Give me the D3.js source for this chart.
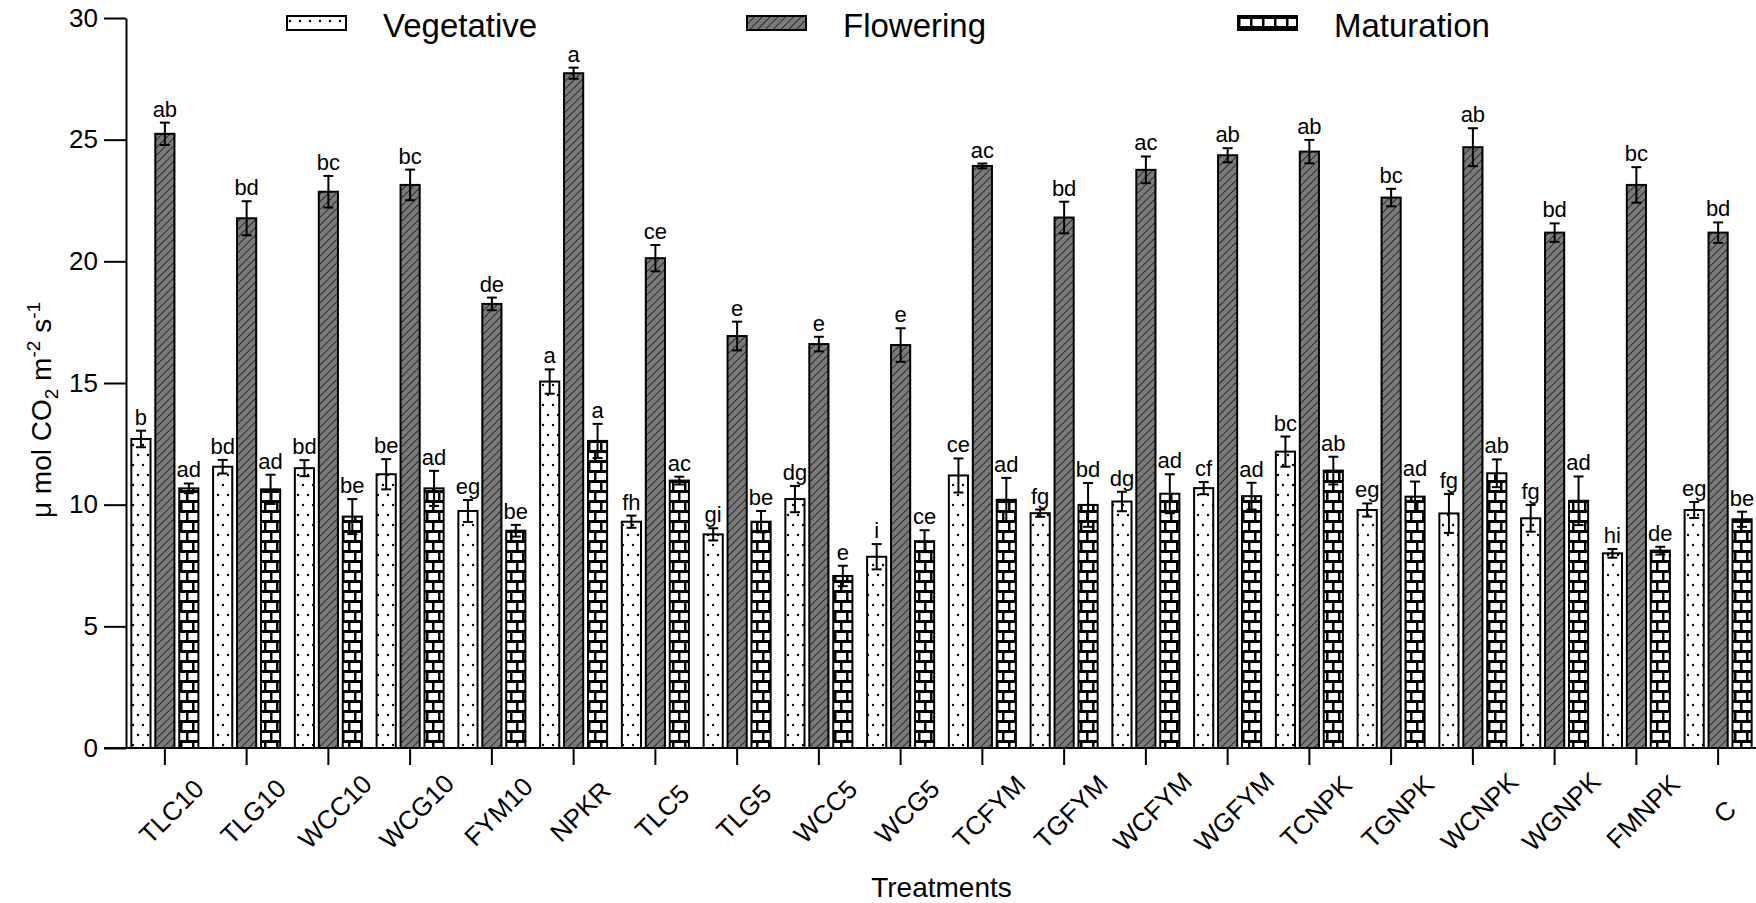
<!DOCTYPE html>
<html>
<head>
<meta charset="utf-8">
<script src="https://cdn.jsdelivr.net/npm/d3@7"></script>
<style>
  body { margin: 0; background: #fff; }
  text { font-family: "Liberation Sans", Arial, sans-serif; fill: #000; }
</style>
</head>
<body>
<svg width="1756" height="903"></svg>
<script>
const treatments = ['TLC10', 'TLG10', 'WCC10', 'WCG10', 'FYM10', 'NPKR', 'TLC5', 'TLG5', 'WCC5', 'WCG5',
  'TCFYM', 'TGFYM', 'WCFYM', 'WGFYM', 'TCNPK', 'TGNPK', 'WCNPK', 'WGNPK', 'FMNPK', 'C']
const stages = ['Vegetative', 'Flowering', 'Maturation']

const vegetative = [12.7, 11.56, 11.5, 11.25, 9.74, 15.06, 9.3, 8.78, 10.23, 7.86,
  11.2, 9.65, 10.13, 10.68, 12.18, 9.78, 9.64, 9.44, 8.0, 9.78]
const flowering = [25.24, 21.77, 22.86, 23.14, 18.25, 27.73, 20.13, 16.93, 16.6, 16.56,
  23.92, 21.8, 23.76, 24.36, 24.51, 22.62, 24.69, 21.18, 23.14, 21.18]
const maturation = [10.67, 10.63, 9.51, 10.67, 8.93, 12.62, 10.99, 9.3, 7.07, 8.5,
  10.2, 9.99, 10.45, 10.35, 11.4, 10.33, 11.29, 10.16, 8.11, 9.4]

const vegetativeErr = [0.34, 0.28, 0.33, 0.62, 0.45, 0.5, 0.25, 0.25, 0.54, 0.52,
  0.7, 0.15, 0.4, 0.25, 0.62, 0.27, 0.8, 0.55, 0.18, 0.33]
const floweringErr = [0.46, 0.7, 0.65, 0.63, 0.26, 0.23, 0.54, 0.59, 0.3, 0.69,
  0.1, 0.65, 0.55, 0.29, 0.48, 0.36, 0.78, 0.38, 0.73, 0.42]
const maturationErr = [0.2, 0.6, 0.72, 0.72, 0.24, 0.7, 0.16, 0.44, 0.42, 0.45,
  0.9, 0.9, 0.8, 0.55, 0.57, 0.62, 0.57, 1.0, 0.16, 0.31]

const vegetativeLetters = ['b', 'bd', 'bd', 'be', 'eg', 'a', 'fh', 'gi', 'dg', 'i',
  'ce', 'fg', 'dg', 'cf', 'bc', 'eg', 'fg', 'fg', 'hi', 'eg']
const floweringLetters = ['ab', 'bd', 'bc', 'bc', 'de', 'a', 'ce', 'e', 'e', 'e',
  'ac', 'bd', 'ac', 'ab', 'ab', 'bc', 'ab', 'bd', 'bc', 'bd']
const maturationLetters = ['ad', 'ad', 'be', 'ad', 'be', 'a', 'ac', 'be', 'e', 'ce',
  'ad', 'bd', 'ad', 'ad', 'ab', 'ad', 'ab', 'ad', 'de', 'be']

const yTicks = [0, 5, 10, 15, 20, 25, 30]

const values = [vegetative, flowering, maturation]
const errs = [vegetativeErr, floweringErr, maturationErr]
const letters = [vegetativeLetters, floweringLetters, maturationLetters]
const fills = ['url(#dots)', 'url(#hatch)', 'url(#brick)']

const rows = []
treatments.forEach((t, i) => {
  stages.forEach((s, j) => {
    rows.push({ treatment: t, stage: s, value: values[j][i], err: errs[j][i], letter: letters[j][i], fill: fills[j] })
  })
})

const svg = d3.select('svg')

// patterns
const defs = svg.append('defs')

const dots = defs.append('pattern')
  .attr('id', 'dots')
  .attr('patternUnits', 'userSpaceOnUse')
  .attr('width', 10)
  .attr('height', 20)
dots.append('rect').attr('width', 10).attr('height', 20).attr('fill', '#fff')
dots.append('circle').attr('cx', 3).attr('cy', 5).attr('r', 1.2).attr('fill', '#000')
dots.append('circle').attr('cx', 8).attr('cy', 15).attr('r', 1.2).attr('fill', '#000')

const hatch = defs.append('pattern')
  .attr('id', 'hatch')
  .attr('patternUnits', 'userSpaceOnUse')
  .attr('width', 5.5)
  .attr('height', 10)
  .attr('patternTransform', 'rotate(45)')
hatch.append('rect').attr('width', 5.5).attr('height', 10).attr('fill', '#7a7a7a')
hatch.append('line').attr('x1', 0).attr('x2', 0).attr('y1', 0).attr('y2', 10)
  .attr('stroke', '#111').attr('stroke-width', 1.5)

const brick = defs.append('pattern')
  .attr('id', 'brick')
  .attr('patternUnits', 'userSpaceOnUse')
  .attr('width', 12)
  .attr('height', 20)
brick.append('rect').attr('width', 12).attr('height', 20).attr('fill', '#fff')
brick.append('rect').attr('y', 0).attr('width', 12).attr('height', 3).attr('fill', '#000')
brick.append('rect').attr('y', 10).attr('width', 12).attr('height', 3).attr('fill', '#000')
brick.append('rect').attr('x', 0).attr('y', 0).attr('width', 2.5).attr('height', 10).attr('fill', '#000')
brick.append('rect').attr('x', 6).attr('y', 10).attr('width', 2.5).attr('height', 10).attr('fill', '#000')

// scales
const x0 = d3.scaleBand()
  .domain(treatments)
  .range([124, 1759])
  .paddingInner(0.18)
  .paddingOuter(0.09)

const x1 = d3.scaleBand()
  .domain(stages)
  .range([0, x0.bandwidth()])
  .paddingInner(0.2)

const y = d3.scaleLinear()
  .domain([0, 30])
  .range([748, 18])

// bars
const bars = svg.append('g')
bars.selectAll('rect')
  .data(rows)
  .join('rect')
  .attr('x', d => x0(d.treatment) + x1(d.stage))
  .attr('y', d => y(d.value))
  .attr('width', x1.bandwidth())
  .attr('height', d => y(0) - y(d.value))
  .attr('fill', d => d.fill)
  .attr('stroke', '#000')
  .attr('stroke-width', 2)

// error bars
const capW = 5
const eb = svg.append('g')
  .attr('stroke', '#000')
  .attr('stroke-width', 2)
const cx = d => x0(d.treatment) + x1(d.stage) + x1.bandwidth() / 2
eb.selectAll('.stem')
  .data(rows)
  .join('line')
  .attr('x1', cx).attr('x2', cx)
  .attr('y1', d => y(d.value - d.err))
  .attr('y2', d => y(d.value + d.err))
eb.selectAll('.capTop')
  .data(rows)
  .join('line')
  .attr('x1', d => cx(d) - capW).attr('x2', d => cx(d) + capW)
  .attr('y1', d => y(d.value + d.err)).attr('y2', d => y(d.value + d.err))
eb.selectAll('.capBottom')
  .data(rows)
  .join('line')
  .attr('x1', d => cx(d) - capW).attr('x2', d => cx(d) + capW)
  .attr('y1', d => y(d.value - d.err)).attr('y2', d => y(d.value - d.err))

// letters
svg.append('g')
  .selectAll('text')
  .data(rows)
  .join('text')
  .attr('x', cx)
  .attr('y', d => y(d.value + d.err) - 6)
  .attr('text-anchor', 'middle')
  .attr('font-size', 22)
  .text(d => d.letter)

// y axis
const yAxis = svg.append('g')
  .attr('transform', 'translate(126,0)')
  .call(d3.axisLeft(y).tickValues(yTicks).tickSize(22).tickPadding(6).tickSizeOuter(0))
yAxis.selectAll('text').attr('font-size', 26).attr('font-family', '"Liberation Sans", Arial, sans-serif')
yAxis.selectAll('line, path').attr('stroke', '#000').attr('stroke-width', 2)

// x axis
const xAxis = svg.append('g')
  .attr('transform', 'translate(0,748)')
xAxis.append('line')
  .attr('x1', 104).attr('x2', 1756)
  .attr('stroke', '#000').attr('stroke-width', 2)
xAxis.selectAll('.tick')
  .data(treatments)
  .join('line')
  .attr('x1', d => x0(d) + x0.bandwidth() / 2)
  .attr('x2', d => x0(d) + x0.bandwidth() / 2)
  .attr('y1', 0).attr('y2', 17)
  .attr('stroke', '#000').attr('stroke-width', 2)
xAxis.selectAll('text')
  .data(treatments)
  .join('text')
  .attr('transform', d => `translate(${x0(d) + x0.bandwidth() / 2 + 13}, 70) rotate(-45)`)
  .attr('text-anchor', 'middle')
  .attr('font-size', 26)
  .text(d => d)

// axis titles
svg.append('text')
  .attr('x', (124 + 1759) / 2)
  .attr('y', 897)
  .attr('text-anchor', 'middle')
  .attr('font-size', 28)
  .text('Treatments')

const yTitle = svg.append('text')
  .attr('transform', 'translate(51, 410) rotate(-90)')
  .attr('text-anchor', 'middle')
  .attr('font-size', 28)
yTitle.append('tspan').text('\u03bc mol CO')
yTitle.append('tspan').attr('font-size', 19).attr('dy', 7).text('2')
yTitle.append('tspan').attr('dy', -7).text(' m')
yTitle.append('tspan').attr('font-size', 19).attr('dy', -11).text('-2')
yTitle.append('tspan').attr('dy', 11).text(' s')
yTitle.append('tspan').attr('font-size', 19).attr('dy', -11).text('-1')

// legend
const legendX = [287, 747, 1238]
const legend = svg.append('g')
  .selectAll('g')
  .data(stages)
  .join('g')
  .attr('transform', (d, i) => `translate(${legendX[i]}, 16)`)
legend.append('rect')
  .attr('width', 59)
  .attr('height', 14)
  .attr('fill', (d, i) => fills[i])
  .attr('stroke', '#000')
  .attr('stroke-width', 2)
legend.append('text')
  .attr('x', 96)
  .attr('y', 21)
  .attr('font-size', 33)
  .text(d => d)
</script>
</body>
</html>
